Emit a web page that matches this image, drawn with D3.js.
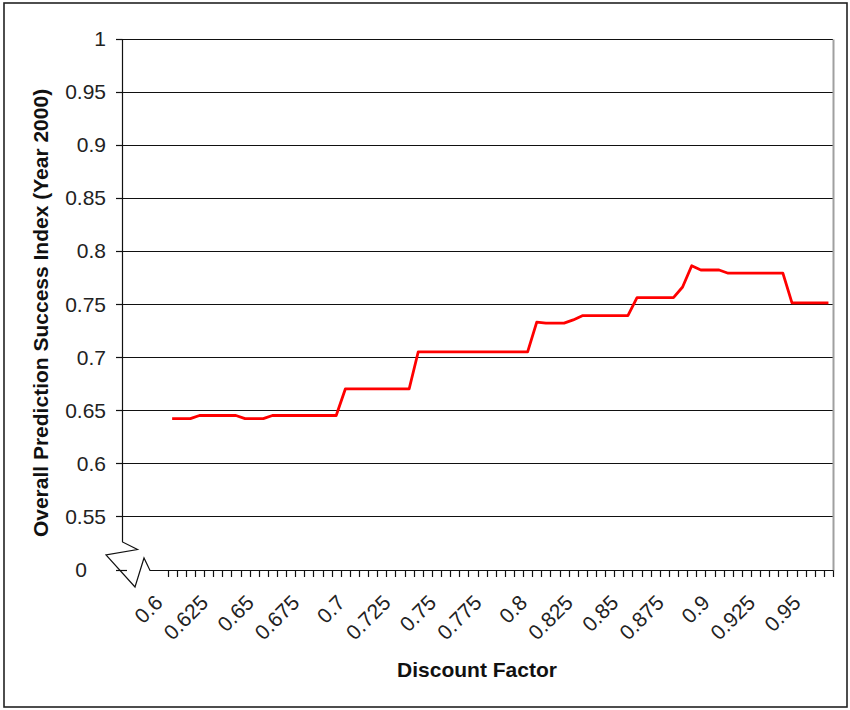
<!DOCTYPE html>
<html><head><meta charset="utf-8">
<script src="https://cdn.jsdelivr.net/npm/d3@7"></script>
<style>
body{margin:0;background:#fff}
svg{display:block}
text{font-family:"Liberation Sans",Arial,sans-serif}
</style>
</head><body>
<svg id="c" width="850" height="710"></svg>
<script>
// Discount factor categories (x)
const categories = [0.58,0.585,0.59,0.595,0.6,0.605,0.61,0.615,0.62,0.625,0.63,0.635,0.64,0.645,0.65,0.655,0.66,0.665,0.67,0.675,0.68,0.685,0.69,0.695,0.7,0.705,0.71,0.715,0.72,0.725,0.73,0.735,0.74,0.745,0.75,0.755,0.76,0.765,0.77,0.775,0.78,0.785,0.79,0.795,0.8,0.805,0.81,0.815,0.82,0.825,0.83,0.835,0.84,0.845,0.85,0.855,0.86,0.865,0.87,0.875,0.88,0.885,0.89,0.895,0.9,0.905,0.91,0.915,0.92,0.925,0.93,0.935,0.94,0.945,0.95,0.955,0.96,0.965];
// Overall prediction success index (Year 2000)
const successIndex = [null,null,null,null,null,
  0.642,0.642,0.642,
  0.645,0.645,0.645,0.645,0.645,
  0.642,0.642,0.642,
  0.645,0.645,0.645,0.645,0.645,0.645,0.645,0.645,
  0.67,0.67,0.67,0.67,0.67,0.67,0.67,0.67,
  0.705,0.705,0.705,0.705,0.705,0.705,0.705,0.705,0.705,0.705,0.705,0.705,0.705,
  0.733,0.732,0.732,0.732,0.735,
  0.739,0.739,0.739,0.739,0.739,0.739,
  0.756,0.756,0.756,0.756,0.756,
  0.766,0.786,0.782,0.782,0.782,
  0.779,0.779,0.779,0.779,0.779,0.779,0.779,
  0.751,0.751,0.751,0.751,0.751];
const xTickLabels = ["0.6","0.625","0.65","0.675","0.7","0.725","0.75","0.775","0.8","0.825","0.85","0.875","0.9","0.925","0.95"];
const yTickValues = [0.5,0.55,0.6,0.65,0.7,0.75,0.8,0.85,0.9,0.95,1];
const yTickLabels = ["0","0.55","0.6","0.65","0.7","0.75","0.8","0.85","0.9","0.95","1"];
const xTitle = "Discount Factor";
const yTitle = "Overall Prediction Success Index (Year 2000)";

const svg = d3.select("#c");
svg.append("rect").attr("x",4).attr("y",3).attr("width",843).attr("height",704)
  .attr("fill","#fff").attr("stroke","#222").attr("stroke-width",1.6);

const x = d3.scaleBand().domain(categories).range([122,833]).padding(0);
const bw = x.bandwidth();
const y = d3.scaleLinear().domain([0.5,1]).range([569.5,38.5]);
const py = v => Math.round(y(v)) + 0.5;
const axisY0 = py(0.5);

// gridlines
svg.append("g").selectAll("line").data(yTickValues.filter(v => v > 0.5)).join("line")
  .attr("x1",116).attr("x2",833).attr("y1",py).attr("y2",py)
  .attr("stroke","#111").attr("stroke-width",1.1);

// right border of plot area
svg.append("line").attr("x1",833.5).attr("x2",833.5).attr("y1",py(1)).attr("y2",axisY0)
  .attr("stroke","#a0a0a0").attr("stroke-width",2);

// y axis with break and x axis
svg.append("path")
  .attr("d",`M122.5,${py(1)} V542 L137.5,549.5 L106,555 L135,587 L144,558 L150,${axisY0} H833.5`)
  .attr("fill","none").attr("stroke","#111").attr("stroke-width",1.2);

// y ticks
svg.append("g").selectAll("line").data(yTickValues).join("line")
  .attr("x1",116).attr("x2",d => d === 0.5 ? 127 : 122.5)
  .attr("y1",py).attr("y2",py).attr("stroke","#111").attr("stroke-width",1.2);

// y labels
svg.append("g").selectAll("text").data(yTickValues).join("text")
  .attr("x",d => d === 0.5 ? 87 : 106).attr("y",d => y(d)).attr("dy","0.36em")
  .attr("text-anchor","end").attr("font-size",21).attr("fill","#222")
  .text((d,i) => yTickLabels[i]);

// x ticks at category boundaries (right of the break)
const bounds = categories.map(c => x(c)).concat([833]).filter(v => v > 160);
svg.append("g").selectAll("line").data(bounds).join("line")
  .attr("x1",d => Math.round(d)+0.5).attr("x2",d => Math.round(d)+0.5)
  .attr("y1",axisY0).attr("y2",axisY0+6.5).attr("stroke","#111").attr("stroke-width",1.2);

// x labels
svg.append("g").selectAll("text").data(xTickLabels).join("text")
  .attr("transform",d => `translate(${x(+d)+bw/2+1},${604}) rotate(-45)`)
  .attr("text-anchor","end").attr("font-size",21).attr("fill","#222")
  .text(d => d);

// line
const pts = categories.map((c,i) => ({c, v: successIndex[i]}));
svg.append("path").datum(pts)
  .attr("d", d3.line().defined(d => d.v != null).x(d => x(d.c)+bw/2).y(d => y(d.v)))
  .attr("fill","none").attr("stroke","#f00").attr("stroke-width",2.8)
  .attr("stroke-linejoin","round");

// titles
svg.append("text").attr("x",477).attr("y",677).attr("text-anchor","middle")
  .attr("font-size",21).attr("font-weight","bold").attr("fill","#111").text(xTitle);
svg.append("text").attr("transform","translate(48,313) rotate(-90)").attr("text-anchor","middle")
  .attr("font-size",21).attr("font-weight","bold").attr("fill","#111").text(yTitle);
</script>
</body></html>
